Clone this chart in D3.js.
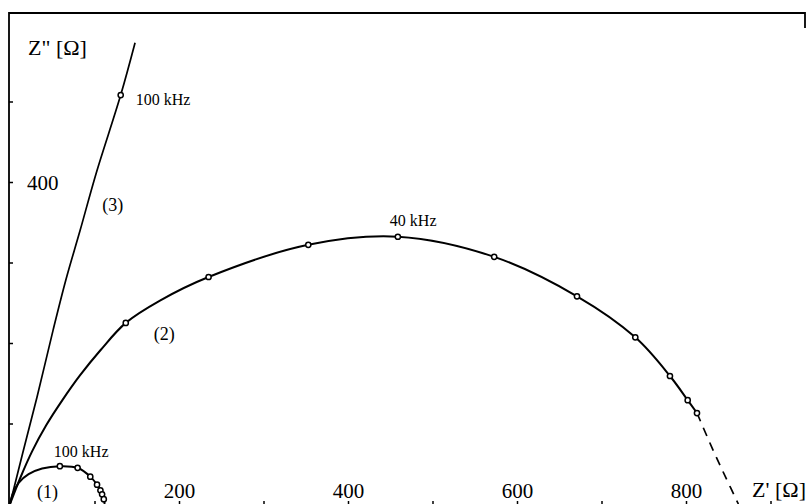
<!DOCTYPE html>
<html lang="en">
<head>
  <meta charset="UTF-8" />
  <title>Impedance spectra</title>
  <script src="https://d3js.org/d3.v7.min.js"></script>
  <style>
    body { margin: 0; background: white; }
    svg { display: block; font-family: "Liberation Serif", "DejaVu Serif", serif; }
  </style>
</head>
<body>
<svg width="807" height="504"></svg>
<script>
// Z' / Z'' in ohm
const curve1 = [[0,0],[3,12],[10,26],[22,37],[38,44],[59,47],[80,45],[95,34],[103,24],[107,17],[109,12],[111,6],[112,0]];
const curve1Marks = [[59,47],[80,45],[95,34],[103,24],[107,17],[109,12],[111,6]];

const curve2 = [[0,0],[12,32],[26,65],[43,98],[62,129],[83,160],[107,191],[137,225],[178,253],[235,282],[353,322],[459,332],[573,307],[671,258],[740,207],[781,159],[802,129],[813,113]];
const curve2Marks = [[137,225],[235,282],[353,322],[459,332],[573,307],[671,258],[740,207],[781,159],[802,129],[813,113]];
const curve2Dashed = [[813,113],[832,67],[847,33],[862,0]];

const curve3 = [[0,0],[15,63],[32,133],[51,216],[66,278],[83,340],[102,411],[131,508],[148,573]];
const curve3Marks = [[131,508]];

const yTicks = [100, 200, 300, 400, 500];
const yLabels = [400];
const xTicks = [100, 200, 300, 400, 500, 600, 700, 800, 900];
const xLabels = [200, 400, 600, 800];

const svg = d3.select("svg");
const x = d3.scaleLinear().domain([0, 900]).range([10, 10 + 900 * 0.845]);
const y = d3.scaleLinear().domain([0, 600]).range([504, 504 - 600 * 0.805]);

// frame
svg.append("path")
  .attr("d", "M9,504 L9,13 L805,13 L805,28")
  .attr("fill", "none").attr("stroke", "#000").attr("stroke-width", 1.8);

// y axis ticks (inside)
const yAxis = svg.append("g").attr("transform", `translate(${x(0) - 1},0)`)
  .call(d3.axisRight(y).tickValues(yTicks).tickSize(4).tickPadding(14)
    .tickFormat(d => yLabels.includes(d) ? d : ""));
yAxis.select(".domain").remove();
yAxis.selectAll("line").attr("stroke-width", 1.5);
yAxis.selectAll("text").attr("font-size", 21).attr("font-family", "Liberation Serif").attr("dy", "0.36em");

// x axis ticks (pointing up from bottom)
const xAxis = svg.append("g").attr("transform", `translate(0,${y(0) + 1})`)
  .call(d3.axisTop(x).tickValues(xTicks).tickSize(4).tickPadding(3)
    .tickFormat(d => xLabels.includes(d) ? d : ""));
xAxis.select(".domain").remove();
xAxis.selectAll("line").attr("stroke-width", 1.5);
xAxis.selectAll("text").attr("font-size", 21).attr("font-family", "Liberation Serif");

// axis titles
svg.append("text").attr("x", 28).attr("y", 55).attr("font-size", 22).text("Z\" [Ω]");
svg.append("text").attr("x", 806).attr("y", 497).attr("text-anchor", "end").attr("font-size", 22).text("Z' [Ω]");

const line = d3.line().x(d => x(d[0])).y(d => y(d[1])).curve(d3.curveCatmullRom.alpha(0.5));

function drawCurve(pts, width, dash) {
  svg.append("path").datum(pts)
    .attr("d", line)
    .attr("fill", "none").attr("stroke", "#000")
    .attr("stroke-width", width)
    .attr("stroke-dasharray", dash || null);
}
drawCurve(curve3, 1.7);
drawCurve(curve2, 2);
drawCurve(curve2Dashed, 1.7, "9,7");
drawCurve(curve1, 2);

function drawMarks(pts) {
  svg.append("g").selectAll("circle").data(pts).join("circle")
    .attr("cx", d => x(d[0])).attr("cy", d => y(d[1])).attr("r", 2.6)
    .attr("fill", "#fff").attr("stroke", "#000").attr("stroke-width", 1.5);
}
drawMarks(curve1Marks);
drawMarks(curve2Marks);
drawMarks(curve3Marks);

// annotations
const notes = [
  { t: "100 kHz", at: [131, 508], dx: 15, dy: 10, size: 16 },
  { t: "40 kHz", at: [459, 332], dx: -8, dy: -11, size: 16 },
  { t: "100 kHz", at: [59, 47], dx: -6, dy: -9, size: 16 },
  { t: "(3)", at: [102, 411], dx: 6, dy: 38, size: 18 },
  { t: "(2)", at: [137, 225], dx: 28, dy: 17, size: 18 },
  { t: "(1)", at: [0, 0], dx: 27, dy: -6, size: 18 }
];
svg.append("g").selectAll("text").data(notes).join("text")
  .attr("x", d => x(d.at[0]) + d.dx).attr("y", d => y(d.at[1]) + d.dy)
  .attr("font-size", d => d.size)
  .text(d => d.t);
</script>
</body>
</html>
